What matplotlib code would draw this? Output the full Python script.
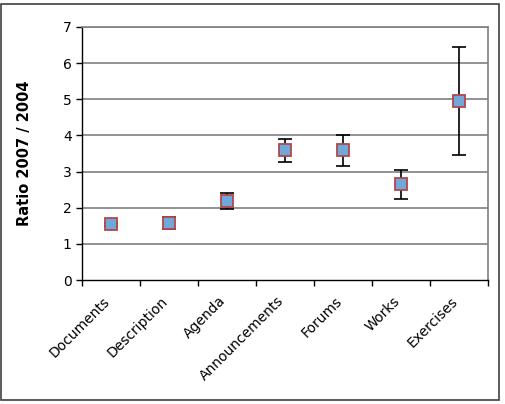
import numpy as np
import matplotlib
matplotlib.use('Agg')
import matplotlib.pyplot as plt
import matplotlib.transforms as mtrans
from matplotlib.patches import Rectangle

categories = ['Documents', 'Description', 'Agenda', 'Announcements', 'Forums', 'Works', 'Exercises']
ratio = [1.54, 1.58, 2.19, 3.60, 3.60, 2.65, 4.95]
err_low = [1.50, 1.40, 1.96, 3.26, 3.15, 2.23, 3.47]
err_high = [1.58, 1.74, 2.42, 3.90, 4.01, 3.04, 6.45]

plt.rcParams['font.family'] = ['DejaVu Sans']

fig = plt.figure(figsize=(5.06, 4.04), dpi=100)
ax = fig.add_axes([82/506, 1 - 280/404, 406/506, 253/404])

x = np.arange(len(categories))
y = np.array(ratio)
yerr = [y - np.array(err_low), np.array(err_high) - y]

for v in range(1, 8):
    ax.axhline(v, color='#808080', lw=1.2, zorder=1)

ax.errorbar(x, y, yerr=yerr, fmt='none', ecolor='black', elinewidth=1.2,
            capsize=5, capthick=1.2, zorder=2)
ax.plot(x, y, 's', ms=8, mfc='#70a8dc', mec='#b04848', mew=1.3, ls='none', zorder=3)

ax.set_xlim(-0.5, len(categories) - 0.5)
ax.set_ylim(0, 7)
ax.set_yticks(range(0, 8))
ax.tick_params(axis='y', labelsize=10, length=4, direction='out', width=1)

ax.set_xticks(x)
ax.set_xticklabels(categories, rotation=45, ha='right', rotation_mode='anchor', fontsize=10)
ax.tick_params(axis='x', which='major', length=0, pad=10)
shift = mtrans.ScaledTranslation(-8/100, 0, fig.dpi_scale_trans)
for lbl in ax.get_xticklabels():
    lbl.set_transform(lbl.get_transform() + shift)
ax.set_xticks(np.arange(-0.5, len(categories)), minor=True)
ax.tick_params(axis='x', which='minor', length=4, direction='out', width=1)

for s in ['top', 'right']:
    ax.spines[s].set_color('#808080')
    ax.spines[s].set_linewidth(1.2)
for s in ['left', 'bottom']:
    ax.spines[s].set_color('black')
    ax.spines[s].set_linewidth(1)

ax.set_ylabel('Ratio 2007 / 2004', fontsize=10.5, fontweight='bold', labelpad=22)

fig.patches.append(Rectangle((1/506, 4/404), 498/506, 396/404, transform=fig.transFigure,
                             fill=False, ec='#404040', lw=1.2))

fig.savefig('out.png', dpi=100)
